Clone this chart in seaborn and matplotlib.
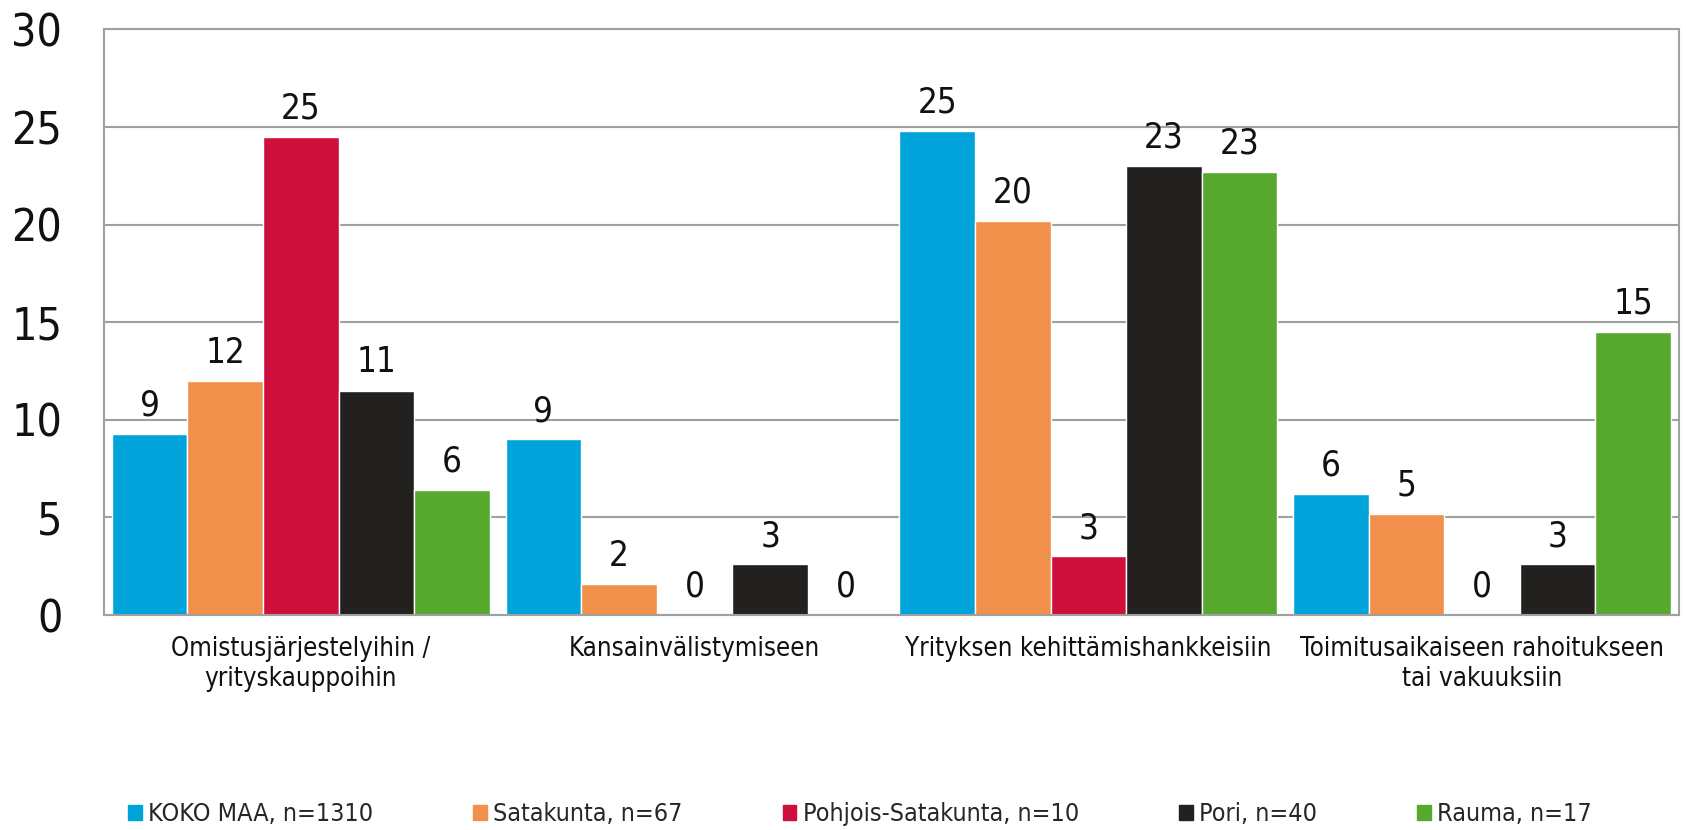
import numpy as np
import pandas as pd
import matplotlib
matplotlib.use("Agg")
import matplotlib.pyplot as plt
import seaborn as sns

# categories and series
categories = ["Omistusjärjestelyihin /\nyrityskauppoihin",
              "Kansainvälistymiseen",
              "Yrityksen kehittämishankkeisiin",
              "Toimitusaikaiseen rahoitukseen\ntai vakuuksiin"]
series = ["KOKO MAA, n=1310", "Satakunta, n=67", "Pohjois-Satakunta, n=10",
          "Pori, n=40", "Rauma, n=17"]
colors = ["#00A4DA", "#F0904A", "#CE0F3D", "#232120", "#57A92D"]

# values per series (one per category)
koko_maa = [9.3, 9.0, 24.8, 6.2]
satakunta = [12.0, 1.6, 20.2, 5.2]
pohjois_satakunta = [24.5, 0.0, 3.0, 0.0]
pori = [11.5, 2.6, 23.0, 2.6]
rauma = [6.4, 0.0, 22.7, 14.5]

# printed labels above bars
koko_maa_lbl = ["9", "9", "25", "6"]
satakunta_lbl = ["12", "2", "20", "5"]
pohjois_lbl = ["25", "0", "3", "0"]
pori_lbl = ["11", "3", "23", "3"]
rauma_lbl = ["6", "0", "23", "15"]

values = [koko_maa, satakunta, pohjois_satakunta, pori, rauma]
labels = [koko_maa_lbl, satakunta_lbl, pohjois_lbl, pori_lbl, rauma_lbl]

rows = []
for s, vals in zip(series, values):
    for c, v in zip(categories, vals):
        rows.append({"cat": c, "series": s, "value": v})
df = pd.DataFrame(rows)

sns.set_style("white")
plt.rcParams['font.family'] = ['DejaVu Sans']
plt.rcParams['font.stretch'] = 'condensed'

fig = plt.figure(figsize=(16.86, 8.30), dpi=100)
ax = fig.add_axes([0.0617, 0.259, 0.9341, 0.7055])

sns.barplot(data=df, x="cat", y="value", hue="series", palette=colors,
            width=0.96, saturation=1, ax=ax, legend=False, errorbar=None)

for cont, lbl in zip(ax.containers, labels):
    ax.bar_label(cont, labels=lbl, padding=8, fontsize=25, color="#111111")

ax.set_ylim(0, 30)
ax.set_yticks(np.arange(0, 31, 5))
ax.set_xlim(-0.5, len(categories) - 0.5)
ax.yaxis.grid(True, color="#A0A0A0", linewidth=1.5)
ax.set_axisbelow(True)
for sp in ax.spines.values():
    sp.set_color("#A0A0A0")
    sp.set_linewidth(1.5)
ax.tick_params(axis="y", length=0, pad=30, labelsize=32, labelcolor="#111111")
ax.tick_params(axis="x", length=0, pad=15, labelsize=18.5, labelcolor="#111111")
ax.set_xlabel("")
ax.set_ylabel("")

handles = [plt.Rectangle((0, 0), 1, 1, color=c) for c in colors]
fig.legend(handles, series, loc="center", bbox_to_anchor=(0.51, 0.019),
           ncol=5, frameon=False, fontsize=18, handlelength=0.55,
           handleheight=0.55, handletextpad=0.25, columnspacing=4.0)

fig.savefig("out.png", dpi=100)
